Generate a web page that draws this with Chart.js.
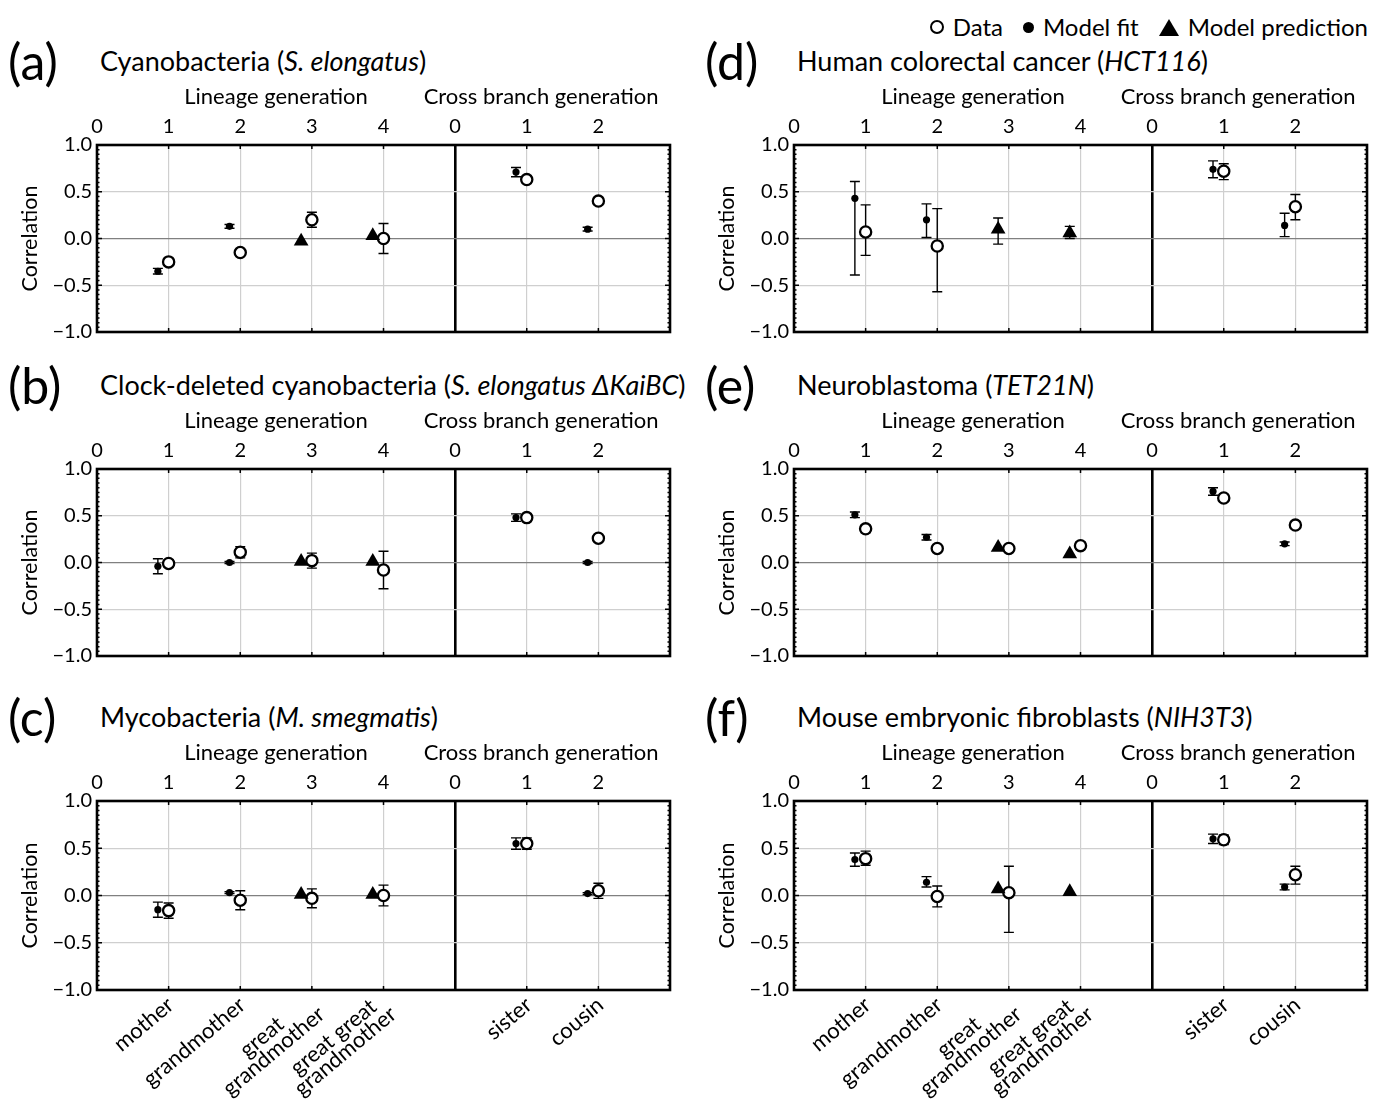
<!DOCTYPE html>
<html>
<head>
<meta charset="utf-8">
<script src="https://cdn.jsdelivr.net/npm/chart.js@4.4.0/dist/chart.umd.min.js"></script>
<style>
  body { margin: 0; background: #fff; font-family: Lato, "Noto Sans", sans-serif; color: #000; }
  #fig { position: relative; width: 1382px; height: 1103px; overflow: hidden; }
  .letter { position: absolute; font-size: 50px; line-height: 50px; white-space: nowrap; }
  .title { position: absolute; font-size: 27px; line-height: 28px; white-space: nowrap; }
  .panel { position: absolute; }
  #legend { position: absolute; right: 14px; top: 13px; font-size: 24px; line-height: 28px;
            display: flex; align-items: center; white-space: nowrap; }
  #legend .sym { display: inline-block; margin-right: 9px; }
  #legend .item { display: flex; align-items: center; margin-left: 20px; }
  .open { width: 10px; height: 10px; border: 2.6px solid #000; border-radius: 50%; background: #fff; }
  .dot { width: 11px; height: 11px; border-radius: 50%; background: #000; }
  .tri { width: 0; height: 0; border-left: 10px solid transparent; border-right: 10px solid transparent;
         border-bottom: 17px solid #000; }
</style>
</head>
<body>
<div id="fig">
  <div id="legend">
    <span class="item"><span class="sym open"></span>Data</span>
    <span class="item"><span class="sym dot"></span>Model fit</span>
    <span class="item"><span class="sym tri"></span>Model prediction</span>
  </div>
</div>
<script>
// generations and axis labels
const lineageGen = [1, 2, 3, 4];
const crossGen = [1, 2];
const fitLineageGen = [1, 2];
const predLineageGen = [3, 4];
const crossOrigin = 5; // cross branch axis starts here on the shared x scale
const topTickLabels = ['0', '1', '2', '3', '4', '0', '1', '2'];
const relativeLabels = [['mother'], ['grandmother'], ['great', 'grandmother'],
                        ['great great', 'grandmother'], ['sister'], ['cousin']];

// errors: a number is symmetric, a pair is [down, up]

// (a) cyanobacteria
const aData = [-0.25, -0.15, 0.20, 0.00, 0.63, 0.40];
const aDataErr = [0.03, 0.03, 0.08, 0.16, 0.04, 0.02];
const aFit = [-0.35, 0.13, 0.71, 0.10];
const aFitErr = [0.03, 0.02, 0.05, 0.02];
const aPred = [-0.03, 0.03];
const aPredErr = [0, 0];

// (b) clock-deleted cyanobacteria
const bData = [-0.01, 0.11, 0.02, -0.08, 0.48, 0.26];
const bDataErr = [0.04, 0.06, 0.08, 0.20, 0.04, 0.02];
const bFit = [-0.04, 0.00, 0.48, 0.00];
const bFitErr = [0.08, 0.01, 0.04, 0.01];
const bPred = [0.01, 0.01];
const bPredErr = [0, 0];

// (c) mycobacteria
const cData = [-0.16, -0.05, -0.03, 0.00, 0.55, 0.05];
const cDataErr = [0.08, 0.10, 0.10, 0.11, 0.06, 0.08];
const cFit = [-0.15, 0.03, 0.55, 0.02];
const cFitErr = [0.08, 0.01, 0.06, 0.01];
const cPred = [0.01, 0.01];
const cPredErr = [0, 0];

// (d) human colorectal cancer
const dData = [0.07, -0.08, null, null, 0.72, 0.34];
const dDataErr = [[0.25, 0.29], [0.49, 0.40], 0, 0, [0.09, 0.08], [0.14, 0.13]];
const dFit = [0.43, 0.20, 0.74, 0.14];
const dFitErr = [[0.82, 0.18], [0.19, 0.17], 0.09, [0.12, 0.13]];
const dPred = [0.10, 0.06];
const dPredErr = [[0.16, 0.12], [0.06, 0.07]];

// (e) neuroblastoma
const eData = [0.36, 0.15, 0.15, 0.18, 0.69, 0.40];
const eDataErr = [0.04, 0.03, 0.03, 0.04, 0.03, 0.03];
const eFit = [0.51, 0.27, 0.76, 0.20];
const eFitErr = [0.03, 0.03, 0.04, 0.02];
const ePred = [0.16, 0.09];
const ePredErr = [0, 0];

// (f) mouse embryonic fibroblasts
const fData = [0.39, -0.01, 0.03, null, 0.59, 0.22];
const fDataErr = [[0.07, 0.08], 0.11, [0.42, 0.28], 0, 0.05, [0.10, 0.09]];
const fFit = [0.38, 0.14, 0.60, 0.09];
const fFitErr = [0.07, [0.05, 0.06], 0.05, 0.03];
const fPred = [0.07, 0.04];
const fPredErr = [0, 0];

const panels = [
  { letter: '(a)', title: 'Cyanobacteria (<i>S. elongatus</i>)', col: 0, top: 145, labels: false,
    data: aData, dataErr: aDataErr, fit: aFit, fitErr: aFitErr, pred: aPred, predErr: aPredErr },
  { letter: '(b)', title: 'Clock-deleted cyanobacteria (<i>S. elongatus ΔKaiBC</i>)', col: 0, top: 469, labels: false,
    data: bData, dataErr: bDataErr, fit: bFit, fitErr: bFitErr, pred: bPred, predErr: bPredErr },
  { letter: '(c)', title: 'Mycobacteria (<i>M. smegmatis</i>)', col: 0, top: 801, labels: true,
    data: cData, dataErr: cDataErr, fit: cFit, fitErr: cFitErr, pred: cPred, predErr: cPredErr },
  { letter: '(d)', title: 'Human colorectal cancer (<i>HCT116</i>)', col: 1, top: 145, labels: false,
    data: dData, dataErr: dDataErr, fit: dFit, fitErr: dFitErr, pred: dPred, predErr: dPredErr },
  { letter: '(e)', title: 'Neuroblastoma (<i>TET21N</i>)', col: 1, top: 469, labels: false,
    data: eData, dataErr: eDataErr, fit: eFit, fitErr: eFitErr, pred: ePred, predErr: ePredErr },
  { letter: '(f)', title: 'Mouse embryonic fibroblasts (<i>NIH3T3</i>)', col: 1, top: 801, labels: true,
    data: fData, dataErr: fDataErr, fit: fFit, fitErr: fFitErr, pred: fPred, predErr: fPredErr },
];

const FONT = 'Lato, "Noto Sans", sans-serif';
const TOP_AXIS_H = 65;
const PLOT_H = 189;
const CANVAS_W = 685;
const COL_X = [0, 697];
const markerOffset = -0.15;

const dataX = [...lineageGen, ...crossGen.map(g => g + crossOrigin)];
const fitX = [...fitLineageGen, ...crossGen.map(g => g + crossOrigin)].map(g => g + markerOffset);
const predX = predLineageGen.map(g => g + markerOffset);

function toPoints(xs, ys, errs) {
  const pts = [], e = [];
  xs.forEach((x, i) => {
    if (ys[i] === null) return;
    pts.push({ x, y: ys[i] });
    e.push(errs[i]);
  });
  return { pts, e };
}

const errorBars = {
  id: 'errorBars',
  beforeDatasetsDraw(chart) {
    const { ctx, scales: { x, y } } = chart;
    ctx.save();
    ctx.strokeStyle = '#000';
    ctx.lineWidth = 1.4;
    chart.data.datasets.forEach(ds => {
      ds.data.forEach((p, i) => {
        const err = ds.errors[i];
        const [dn, up] = Array.isArray(err) ? err : [err, err];
        if (!dn && !up) return;
        const px = x.getPixelForValue(p.x);
        const y0 = y.getPixelForValue(p.y - dn);
        const y1 = y.getPixelForValue(p.y + up);
        ctx.beginPath();
        ctx.moveTo(px, y0); ctx.lineTo(px, y1);
        ctx.moveTo(px - 5, y0); ctx.lineTo(px + 5, y0);
        ctx.moveTo(px - 5, y1); ctx.lineTo(px + 5, y1);
        ctx.stroke();
      });
    });
    ctx.restore();
  }
};

const frame = {
  id: 'frame',
  afterDraw(chart, args, opts) {
    const { ctx, chartArea: a, scales: { x, y } } = chart;
    ctx.save();
    ctx.strokeStyle = '#000';
    // minor ticks on the side edges
    ctx.lineWidth = 1.5;
    ctx.beginPath();
    for (let k = -20; k <= 20; k++) {
      const py = y.getPixelForValue(k * 0.05);
      const len = k % 10 === 0 ? 5 : 2.5;
      ctx.moveTo(a.left, py); ctx.lineTo(a.left + len, py);
      ctx.moveTo(a.right, py); ctx.lineTo(a.right - len, py);
    }
    for (let g = 1; g < 8; g++) {
      const px = x.getPixelForValue(g);
      ctx.moveTo(px, a.top); ctx.lineTo(px, a.top + 4);
      ctx.moveTo(px, a.bottom); ctx.lineTo(px, a.bottom - 4);
    }
    ctx.stroke();
    // outer box
    ctx.lineWidth = 2.6;
    ctx.strokeRect(a.left, a.top, a.right - a.left, a.bottom - a.top);

    // axis captions above the tick labels
    ctx.fillStyle = '#000';
    ctx.font = '22px ' + FONT;
    ctx.textAlign = 'center';
    ctx.textBaseline = 'middle';
    ctx.fillText('Lineage generation', x.getPixelForValue(2.5), a.top - 48);
    ctx.fillText('Cross branch generation', x.getPixelForValue(6.2), a.top - 48);

    // relative names under the bottom panels, lines centred within each block
    if (opts.labels) {
      const ticks = dataX;
      ctx.font = '22px ' + FONT;
      const lh = 18.5;
      relativeLabels.forEach((lines, i) => {
        const w = Math.max(...lines.map(s => ctx.measureText(s).width));
        ctx.save();
        ctx.translate(x.getPixelForValue(ticks[i]) + 2, a.bottom + 12);
        ctx.rotate(-40 * Math.PI / 180);
        lines.forEach((s, j) => {
          ctx.fillText(s, -w / 2, (j - (lines.length - 1) * 0.35) * lh);
        });
        ctx.restore();
      });
    }
    ctx.restore();
  }
};

const fig = document.getElementById('fig');

panels.forEach(p => {
  const left = COL_X[p.col];
  const letter = document.createElement('div');
  letter.className = 'letter';
  letter.textContent = p.letter;
  letter.style.left = (left + 8) + 'px';
  letter.style.top = (p.top - 109) + 'px';
  fig.appendChild(letter);

  const title = document.createElement('div');
  title.className = 'title';
  title.innerHTML = p.title;
  title.style.left = (left + 100) + 'px';
  title.style.top = (p.top - 98) + 'px';
  fig.appendChild(title);

  const canvasTop = p.top - TOP_AXIS_H;
  const canvasH = p.labels ? 1103 - canvasTop : TOP_AXIS_H + PLOT_H + 15;
  const wrap = document.createElement('div');
  wrap.className = 'panel';
  wrap.style.left = left + 'px';
  wrap.style.top = canvasTop + 'px';
  const canvas = document.createElement('canvas');
  canvas.width = CANVAS_W;
  canvas.height = canvasH;
  canvas.style.width = CANVAS_W + 'px';
  canvas.style.height = canvasH + 'px';
  wrap.appendChild(canvas);
  fig.appendChild(wrap);

  const fit = toPoints(fitX, p.fit, p.fitErr);
  const pred = toPoints(predX, p.pred, p.predErr);
  const data = toPoints(dataX, p.data, p.dataErr);

  new Chart(canvas.getContext('2d'), {
    type: 'scatter',
    data: {
      datasets: [
        { label: 'Model fit', data: fit.pts, errors: fit.e, pointStyle: 'circle', pointRadius: 3.6,
          backgroundColor: '#000', borderColor: '#000', borderWidth: 0 },
        { label: 'Model prediction', data: pred.pts, errors: pred.e, pointStyle: 'triangle', pointRadius: 8.5,
          backgroundColor: '#000', borderColor: '#000', borderWidth: 0 },
        { label: 'Data', data: data.pts, errors: data.e, pointStyle: 'circle', pointRadius: 5.6,
          backgroundColor: '#fff', borderColor: '#000', borderWidth: 2.3 },
      ]
    },
    options: {
      responsive: false,
      animation: false,
      events: [],
      layout: { padding: { left: 0, right: 15, top: 0, bottom: canvasH - TOP_AXIS_H - PLOT_H } },
      plugins: { legend: { display: false }, tooltip: { enabled: false }, frame: { labels: p.labels } },
      scales: {
        x: {
          type: 'linear', position: 'top', min: 0, max: 8,
          afterFit: s => { s.height = TOP_AXIS_H; },
          ticks: { stepSize: 1, autoSkip: false, maxRotation: 0, padding: 6, color: '#000',
                   font: { family: FONT, size: 20 },
                   callback: v => topTickLabels[v] ?? '' },
          grid: { drawTicks: false,
                  color: c => c.tick && c.tick.value === crossOrigin ? '#000' : '#cfcfcf',
                  lineWidth: c => c.tick && c.tick.value === crossOrigin ? 2.6 : 1.2 },
          border: { display: false }
        },
        y: {
          min: -1, max: 1,
          afterFit: s => { s.width = 97; },
          ticks: { stepSize: 0.5, padding: 5, color: '#000', font: { family: FONT, size: 20 },
                   callback: v => v.toFixed(1).replace('-', '\u2212') },
          grid: { drawTicks: false,
                  color: c => c.tick && c.tick.value === 0 ? '#808080' : '#cfcfcf',
                  lineWidth: 1.2 },
          border: { display: false },
          title: { display: true, text: 'Correlation', color: '#000', font: { family: FONT, size: 21.5 },
                   padding: { top: 17, bottom: 0 } }
        }
      }
    },
    plugins: [errorBars, frame]
  });
});
</script>
</body>
</html>
